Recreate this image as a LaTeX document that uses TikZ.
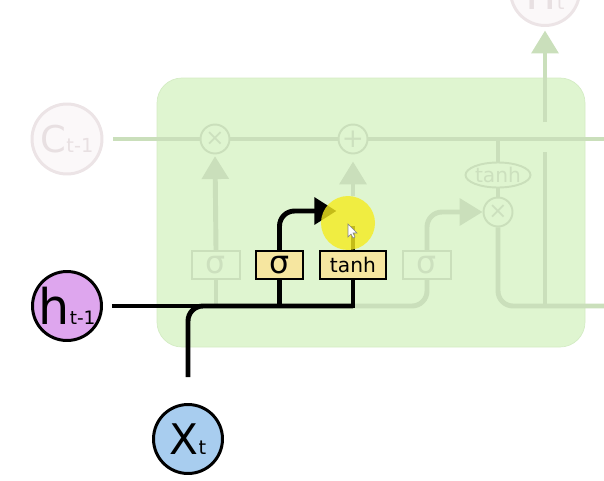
\documentclass[tikz,border=0pt]{standalone}
\usepackage{fontspec}
\setmainfont{DejaVu Sans}
\usetikzlibrary{arrows.meta, positioning, shapes.geometric}

\definecolor{cellgreen}{RGB}{223,245,208}
\definecolor{celledge}{RGB}{212,236,196}
\definecolor{fadeline}{RGB}{202,223,187}
\definecolor{fadetext}{RGB}{204,224,190}
\definecolor{gateyellow}{RGB}{246,230,160}
\definecolor{hpurple}{RGB}{222,166,238}
\definecolor{xblue}{RGB}{168,205,239}
\definecolor{ghostring}{RGB}{236,228,230}
\definecolor{ghosttext}{RGB}{232,224,226}
\definecolor{ghostfill}{RGB}{251,248,249}
\definecolor{pointer}{RGB}{245,235,30}

\begin{document}
\begin{tikzpicture}[
    x=0.02cm, y=-0.02cm,
    every node/.style={align=center, inner sep=0pt},
    flow/.style={draw=black, line width=2.8pt},
    faded/.style={draw=fadeline, line width=2.8pt},
    arrow/.style={-{Triangle[length=13pt, width=15pt]}},
    gatebox/.style={draw, line width=1.1pt, fill=gateyellow, minimum height=0.56cm},
    ghostbox/.style={draw=fadeline, line width=1.1pt, fill=cellgreen, minimum width=0.96cm, minimum height=0.57cm, text=fadetext, font=\fontsize{18}{18}\selectfont},
    op/.style={circle, draw=fadeline, line width=1.1pt, fill=cellgreen, minimum size=0.58cm, text=fadetext},
    state/.style={circle, draw, line width=1.7pt, minimum size=1.38cm}
]
\path[use as bounding box, clip] (0,0) rectangle (604,480);

% Cell body
\draw[fill=cellgreen, draw=celledge, rounded corners=0.5cm] (157,78) rectangle (585,347);

% Faded parts of the cell
\node[state, draw=ghostring, fill=ghostfill, text=ghosttext, minimum size=1.4cm] (ct1) at (67,139) {\fontsize{21}{21}\selectfont C\fontsize{11}{11}\selectfont t-1};
\node[state, draw=ghostring, fill=ghostfill, text=ghosttext] (ht) at (545,-9) {\fontsize{28}{28}\selectfont h\fontsize{11}{11}\selectfont t};
\node[op, font=\fontsize{13}{13}\selectfont] (mul1) at (215,139) {×};
\node[op, font=\fontsize{15}{15}\selectfont] (add) at (353,139) {+};
\node[ghostbox] (sigf) at (216,265) {σ};
\node[ghostbox] (sigo) at (427,265) {σ};
\node[ellipse, draw=fadeline, line width=1.1pt, fill=cellgreen, minimum width=1.3cm, minimum height=0.5cm, text=fadetext, font=\fontsize{11.5}{11.5}\selectfont] (tanho) at (498,175) {tanh};
\node[op, font=\fontsize{13}{13}\selectfont] (mul3) at (498,212) {×};
\node[circle, minimum size=0.58cm] (mul2) at (353,211) {};

\coordinate (cout) at (604,139);
\coordinate (hjoin) at (353,306);
\coordinate (hout) at (604,306);
\coordinate (hup) at (545,152);
\coordinate (hmid) at (545,122);

\draw[faded, shorten <=0.2cm] (ct1.east) -- (mul1.west);
\draw[faded] (mul1.east) -- (add.west);
\draw[faded] (add.east) -- (cout);
\draw[faded] (sigf.south |- hjoin) -- (sigf.south);
\draw[faded, arrow, shorten >=1pt] (sigf.north) -- (mul1.south);
\draw[faded, arrow, shorten >=4pt] (mul2.north) -- (add.south);
\draw[faded, rounded corners=0.3cm] (hjoin) -| (sigo.south);
\draw[faded, arrow, rounded corners=0.3cm] (sigo.north) |- (mul3.west);
\draw[faded] (tanho.north |- cout) -- (tanho.north);
\draw[faded] (tanho.south) -- (mul3.north);
\draw[faded, rounded corners=0.3cm] (mul3.south) |- (hout);
\draw[faded] (hup |- hout) -- (hup);
\draw[faded, arrow, shorten >=2pt] (hmid) -- (hmid |- ht.south);

% Input gate in focus
\node[state, fill=hpurple] (ht1) at (67,306) {\fontsize{28}{28}\selectfont h\fontsize{10.5}{10.5}\selectfont t-1};
\node[state, fill=xblue] (xt) at (188,439) {\fontsize{24}{24}\selectfont X\fontsize{11}{11}\selectfont t};
\node[gatebox, minimum width=0.94cm, font=\fontsize{18}{18}\selectfont] (sigi) at (279.5,265) {σ};
\node[gatebox, minimum width=1.32cm, right=0.3cm of sigi, font=\fontsize{11.5}{11.5}\selectfont] (tanhc) {tanh};

\coordinate (xin) at (188,377);

\draw[flow, shorten <=0.18cm] (ht1.east) -- (hjoin) -- (hjoin |- tanhc.south);
\draw[flow, rounded corners=0.3cm] (xin) |- (hjoin);
\draw[flow] (sigi.south |- hjoin) -- (sigi.south);
\draw[flow, -{Triangle[length=12.5pt, width=15pt]}, rounded corners=0.3cm, shorten >=1pt] (sigi.north) |- (mul2.west);
\draw[flow] (mul2.south |- tanhc.north) -- (mul2.south);

% Pointer highlight
\fill[pointer, fill opacity=0.8] (348,223) circle[radius=0.54cm];
\draw[gray, fill=white, line width=0.3pt] (348,224) -- (348,237) -- (351,234) -- (353,238) -- (355,237) -- (353,233) -- (357,233) -- cycle;

\end{tikzpicture}
\end{document}
